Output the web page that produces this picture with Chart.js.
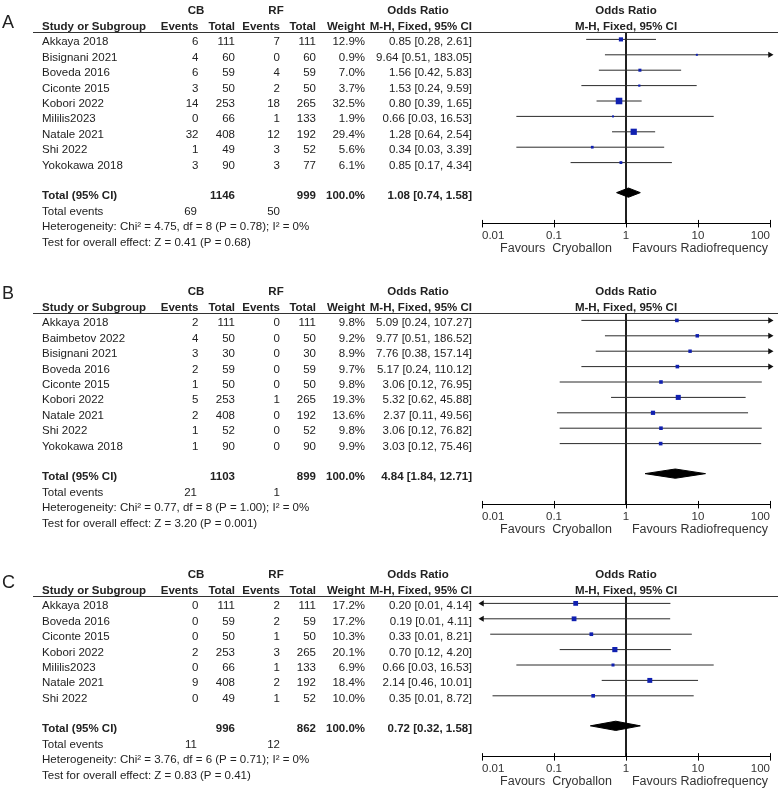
<!DOCTYPE html>
<html>
<head>
<meta charset="utf-8">
<script src="https://cdn.jsdelivr.net/npm/chart.js@4.4.1/dist/chart.umd.min.js"></script>
<style>
  html, body { margin: 0; padding: 0; background: #fff; }
  body { width: 778px; height: 796px; position: relative; overflow: hidden; }
  canvas { position: absolute; left: 0; }
</style>
</head>
<body>
<canvas id="panelA" width="778" height="281" style="top:0px"></canvas>
<canvas id="panelB" width="778" height="282" style="top:281px"></canvas>
<canvas id="panelC" width="778" height="232" style="top:564px"></canvas>
<script>
// ---- shared labels ----
const tickValues = [0.01, 0.1, 1, 10, 100]
const tickLabels = ['0.01', '0.1', '1', '10', '100']
const favourLabels = ['Favours  Cryoballon', 'Favours Radiofrequency']
const headerTop = ['CB', 'RF', 'Odds Ratio', 'Odds Ratio']
const headerCols = ['Study or Subgroup', 'Events', 'Total', 'Events', 'Total', 'Weight', 'M-H, Fixed, 95% CI', 'M-H, Fixed, 95% CI']
const rowLabels = ['Total (95% CI)', 'Total events']

// ---- panel A ----
const studiesA = ['Akkaya 2018', 'Bisignani 2021', 'Boveda 2016', 'Ciconte 2015', 'Kobori 2022', 'Mililis2023', 'Natale 2021', 'Shi 2022', 'Yokokawa 2018']
const cbEventsA = [6, 4, 6, 3, 14, 0, 32, 1, 3]
const cbTotalA = [111, 60, 59, 50, 253, 66, 408, 49, 90]
const rfEventsA = [7, 0, 4, 2, 18, 1, 12, 3, 3]
const rfTotalA = [111, 60, 59, 50, 265, 133, 192, 52, 77]
const weightA = [12.9, 0.9, 7.0, 3.7, 32.5, 1.9, 29.4, 5.6, 6.1]
const orA = [0.85, 9.64, 1.56, 1.53, 0.80, 0.66, 1.28, 0.34, 0.85]
const loA = [0.28, 0.51, 0.42, 0.24, 0.39, 0.03, 0.64, 0.03, 0.17]
const hiA = [2.61, 183.05, 5.83, 9.59, 1.65, 16.53, 2.54, 3.39, 4.34]
const totalsA = [1146, 999, 100.0]
const pooledA = [1.08, 0.74, 1.58]
const eventsA = [69, 50]
const hetA = 'Heterogeneity: Chi\u00b2 = 4.75, df = 8 (P = 0.78); I\u00b2 = 0%'
const testA = 'Test for overall effect: Z = 0.41 (P = 0.68)'

// ---- panel B ----
const studiesB = ['Akkaya 2018', 'Baimbetov 2022', 'Bisignani 2021', 'Boveda 2016', 'Ciconte 2015', 'Kobori 2022', 'Natale 2021', 'Shi 2022', 'Yokokawa 2018']
const cbEventsB = [2, 4, 3, 2, 1, 5, 2, 1, 1]
const cbTotalB = [111, 50, 30, 59, 50, 253, 408, 52, 90]
const rfEventsB = [0, 0, 0, 0, 0, 1, 0, 0, 0]
const rfTotalB = [111, 50, 30, 59, 50, 265, 192, 52, 90]
const weightB = [9.8, 9.2, 8.9, 9.7, 9.8, 19.3, 13.6, 9.8, 9.9]
const orB = [5.09, 9.77, 7.76, 5.17, 3.06, 5.32, 2.37, 3.06, 3.03]
const loB = [0.24, 0.51, 0.38, 0.24, 0.12, 0.62, 0.11, 0.12, 0.12]
const hiB = [107.27, 186.52, 157.14, 110.12, 76.95, 45.88, 49.56, 76.82, 75.46]
const totalsB = [1103, 899, 100.0]
const pooledB = [4.84, 1.84, 12.71]
const eventsB = [21, 1]
const hetB = 'Heterogeneity: Chi\u00b2 = 0.77, df = 8 (P = 1.00); I\u00b2 = 0%'
const testB = 'Test for overall effect: Z = 3.20 (P = 0.001)'

// ---- panel C ----
const studiesC = ['Akkaya 2018', 'Boveda 2016', 'Ciconte 2015', 'Kobori 2022', 'Mililis2023', 'Natale 2021', 'Shi 2022']
const cbEventsC = [0, 0, 0, 2, 0, 9, 0]
const cbTotalC = [111, 59, 50, 253, 66, 408, 49]
const rfEventsC = [2, 2, 1, 3, 1, 2, 1]
const rfTotalC = [111, 59, 50, 265, 133, 192, 52]
const weightC = [17.2, 17.2, 10.3, 20.1, 6.9, 18.4, 10.0]
const orC = [0.20, 0.19, 0.33, 0.70, 0.66, 2.14, 0.35]
const loC = [0.008, 0.008, 0.013, 0.12, 0.03, 0.46, 0.014]
const hiC = [4.14, 4.11, 8.21, 4.20, 16.53, 10.01, 8.72]
const totalsC = [996, 862, 100.0]
const pooledC = [0.72, 0.32, 1.58]
const eventsC = [11, 12]
const hetC = 'Heterogeneity: Chi\u00b2 = 3.76, df = 6 (P = 0.71); I\u00b2 = 0%'
const testC = 'Test for overall effect: Z = 0.83 (P = 0.41)'

const FONT = '"Liberation Sans", Arial, sans-serif'
const ROW0 = 39.4      // pixel of first study row
const ROWH = 15.4      // row pitch
const TOPROW = -0.47   // header rule, top of plot area
Chart.defaults.font.family = FONT

const ciText = (o, l, h) => `${o.toFixed(2)} [${l.toFixed(2)}, ${h.toFixed(2)}]`

// texto de la tabla a la izquierda, dibujado con la escala y del grafico
function drawTable(chart, p) {
    const ctx = chart.ctx
    const xs = chart.scales.x
    const ys = chart.scales.y
    const n = p.studies.length
    const rowY = r => ys.getPixelForValue(r)
    const textY = r => rowY(r) + 2.8
    const axisY = chart.chartArea.bottom
    const one = xs.getPixelForValue(1)
    const colX = [42, 198.5, 235, 280, 316, 365, 472]

    const text = (s, x, y, align, bold) => {
        ctx.font = (bold ? 'bold ' : '') + '11.5px ' + FONT
        ctx.textAlign = align
        ctx.fillText(s, x, y)
    }

    ctx.save()
    ctx.fillStyle = '#222'
    ctx.textBaseline = 'middle'

    ctx.font = '18px ' + FONT
    ctx.textAlign = 'left'
    ctx.fillText(p.letter, 2, p.letterY)

    const h1 = rowY(-1.86)
    const h2 = rowY(-0.84)
    text(headerTop[0], 196, h1, 'center', true)
    text(headerTop[1], 276, h1, 'center', true)
    text(headerTop[2], 418, h1, 'center', true)
    text(headerTop[3], one, h1, 'center', true)
    text(headerCols[0], colX[0], h2, 'left', true)
    for (let c = 1; c < 7; c++) text(headerCols[c], colX[c], h2, 'right', true)
    text(headerCols[7], one, h2, 'center', true)

    ctx.strokeStyle = '#333'
    ctx.lineWidth = 1.2
    const ry = Math.round(chart.chartArea.top) + 0.5
    ctx.beginPath()
    ctx.moveTo(33, ry)
    ctx.lineTo(778, ry)
    ctx.stroke()

    p.studies.forEach((s, i) => {
        const y = textY(i)
        text(s, colX[0], y, 'left')
        text(String(p.cbEvents[i]), colX[1], y, 'right')
        text(String(p.cbTotal[i]), colX[2], y, 'right')
        text(String(p.rfEvents[i]), colX[3], y, 'right')
        text(String(p.rfTotal[i]), colX[4], y, 'right')
        text(p.weight[i].toFixed(1) + '%', colX[5], y, 'right')
        text(ciText(p.or[i], p.lo[i], p.hi[i]), colX[6], y, 'right')
    })

    const ty = textY(n + 0.95)
    text(rowLabels[0], colX[0], ty, 'left', true)
    text(String(p.totals[0]), colX[2], ty, 'right', true)
    text(String(p.totals[1]), colX[4], ty, 'right', true)
    text(p.totals[2].toFixed(1) + '%', colX[5], ty, 'right', true)
    text(ciText(p.pooled[0], p.pooled[1], p.pooled[2]), colX[6], ty, 'right', true)

    const ey = textY(n + 2)
    text(rowLabels[1], colX[0], ey, 'left')
    text(String(p.events[0]), 197, ey, 'right')
    text(String(p.events[1]), colX[3], ey, 'right')
    text(p.het, colX[0], textY(n + 3), 'left')
    text(p.test, colX[0], textY(n + 4), 'left')

    // medias marcas hacia arriba del eje
    ctx.strokeStyle = '#000'
    ctx.lineWidth = 1
    xs.ticks.forEach(t => {
        const px = Math.round(xs.getPixelForValue(t.value)) + 0.5
        ctx.beginPath()
        ctx.moveTo(px, axisY)
        ctx.lineTo(px, axisY - 3.5)
        ctx.stroke()
    })

    ctx.font = '12.5px ' + FONT
    ctx.fillStyle = '#333'
    ctx.textAlign = 'center'
    ctx.fillText(favourLabels[0], xs.getPixelForValue(0.1) + 2, axisY + 25)
    ctx.fillText(favourLabels[1], xs.getPixelForValue(10) + 2, axisY + 25)
    ctx.restore()
}

function makePanel(p) {
    const canvas = document.getElementById(p.id)
    const H = canvas.height
    const n = p.studies.length
    const botRow = n + 2.95
    const axisY = ROW0 + botRow * ROWH
    const xMin = tickValues[0]
    const xMax = tickValues[tickValues.length - 1]
    const clipX = v => Math.min(Math.max(v, xMin), xMax)
    const datasets = []

    // cuadrados por estudio
    datasets.push({
        type: 'scatter',
        data: p.or.map((v, i) => ({ x: v, y: i })),
        pointStyle: 'rect',
        pointRadius: p.weight.map(w => Math.max(2, 1.15 * Math.sqrt(w)) / Math.SQRT2),
        pointBackgroundColor: '#1020b0',
        pointBorderWidth: 0,
        clip: false,
        order: 0
    })

    // flechas cuando el IC sale del eje
    const arrowPts = []
    const arrowRot = []
    p.lo.forEach((v, i) => { if (v < xMin) { arrowPts.push({ x: xMin, y: i }); arrowRot.push(-90) } })
    p.hi.forEach((v, i) => { if (v > xMax) { arrowPts.push({ x: xMax, y: i }); arrowRot.push(90) } })
    datasets.push({
        type: 'scatter',
        data: arrowPts,
        pointStyle: 'triangle',
        pointRotation: arrowRot,
        pointRadius: 3.5,
        pointBackgroundColor: '#111',
        pointBorderWidth: 0,
        clip: false,
        order: 1
    })

    // intervalos de confianza
    p.studies.forEach((s, i) => {
        datasets.push({
            type: 'line',
            data: [{ x: clipX(p.lo[i]), y: i }, { x: clipX(p.hi[i]), y: i }],
            borderColor: '#2b2b2b',
            borderWidth: 1,
            pointRadius: 0,
            clip: false,
            order: 3
        })
    })

    // linea de no efecto
    datasets.push({
        type: 'line',
        data: [{ x: 1, y: TOPROW }, { x: 1, y: botRow }],
        borderColor: '#000',
        borderWidth: 1,
        pointRadius: 0,
        clip: false,
        order: 4
    })

    // diamante del total
    const tr = n + 0.95
    const [po, pl, ph] = p.pooled
    datasets.push({
        type: 'line',
        data: [{ x: pl, y: tr }, { x: po, y: tr - 0.3 }, { x: ph, y: tr }, { x: po, y: tr + 0.3 }, { x: pl, y: tr }],
        borderColor: '#000',
        backgroundColor: '#000',
        borderWidth: 1,
        fill: 'shape',
        tension: 0,
        pointRadius: 0,
        clip: false,
        order: 1
    })

    return new Chart(canvas, {
        type: 'scatter',
        data: { datasets: datasets },
        options: {
            responsive: false,
            animation: false,
            events: [],
            layout: { padding: { left: 482, right: 8, top: ROW0 + TOPROW * ROWH, bottom: H - axisY - 24 } },
            plugins: { legend: { display: false }, tooltip: { enabled: false } },
            scales: {
                x: {
                    type: 'logarithmic',
                    min: xMin,
                    max: xMax,
                    afterBuildTicks: s => { s.ticks = tickValues.map(v => ({ value: v })) },
                    afterFit: s => { s.height = 24 },
                    border: { display: true, color: '#000', width: 1 },
                    grid: { drawOnChartArea: false, drawTicks: true, tickLength: 4, color: '#000' },
                    ticks: {
                        autoSkip: false,
                        maxRotation: 0,
                        align: 'inner',
                        padding: 1,
                        color: '#333',
                        font: { size: 11.5 },
                        callback: (v, i) => tickLabels[i]
                    }
                },
                y: { type: 'linear', reverse: true, min: TOPROW, max: botRow, display: false }
            }
        },
        plugins: [{ id: 'tabla', afterDraw: chart => drawTable(chart, p) }]
    })
}

makePanel({ id: 'panelA', letter: 'A', letterY: 23, studies: studiesA, cbEvents: cbEventsA, cbTotal: cbTotalA, rfEvents: rfEventsA, rfTotal: rfTotalA, weight: weightA, or: orA, lo: loA, hi: hiA, totals: totalsA, pooled: pooledA, events: eventsA, het: hetA, test: testA })
makePanel({ id: 'panelB', letter: 'B', letterY: 13, studies: studiesB, cbEvents: cbEventsB, cbTotal: cbTotalB, rfEvents: rfEventsB, rfTotal: rfTotalB, weight: weightB, or: orB, lo: loB, hi: hiB, totals: totalsB, pooled: pooledB, events: eventsB, het: hetB, test: testB })
makePanel({ id: 'panelC', letter: 'C', letterY: 18.6, studies: studiesC, cbEvents: cbEventsC, cbTotal: cbTotalC, rfEvents: rfEventsC, rfTotal: rfTotalC, weight: weightC, or: orC, lo: loC, hi: hiC, totals: totalsC, pooled: pooledC, events: eventsC, het: hetC, test: testC })
</script>
</body>
</html>
